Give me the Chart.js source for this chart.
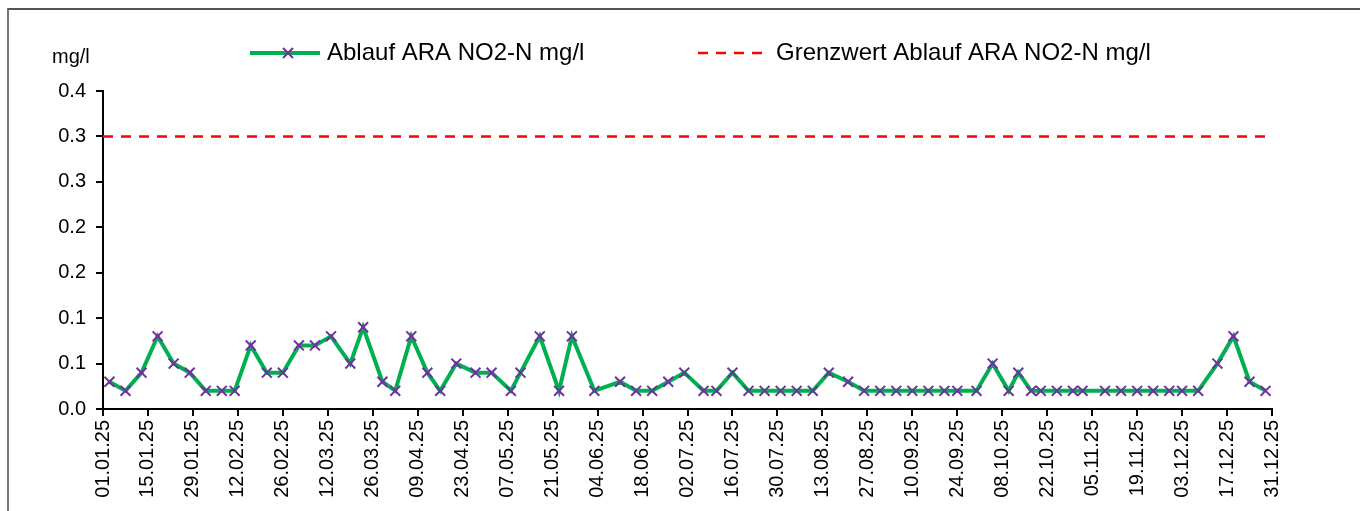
<!DOCTYPE html>
<html>
<head>
<meta charset="utf-8">
<script src="https://cdn.jsdelivr.net/npm/chart.js@4"></script>
<style>
  html, body { margin: 0; padding: 0; background: #fff; overflow: hidden; }
  #frame { position: absolute; left: 7px; top: 8px; width: 1400px; height: 600px;
           border-top: 2px solid #555; border-left: 2px solid #777; }
  #no2Chart { position: absolute; left: 0; top: 0; }
</style>
</head>
<body>
<div id="frame"></div>
<canvas id="no2Chart" width="1360" height="511"></canvas>

<script>
  const sampleDates = [
    '03.01.25', '08.01.25', '13.01.25', '18.01.25', '23.01.25', '28.01.25',
    '02.02.25', '07.02.25', '11.02.25', '16.02.25', '21.02.25', '26.02.25',
    '03.03.25', '08.03.25', '13.03.25', '19.03.25', '23.03.25', '29.03.25',
    '02.04.25', '07.04.25', '12.04.25', '16.04.25', '21.04.25', '27.04.25',
    '02.05.25', '08.05.25', '11.05.25', '17.05.25', '23.05.25', '27.05.25',
    '03.06.25', '11.06.25', '16.06.25', '21.06.25', '26.06.25',
    '01.07.25', '07.07.25', '11.07.25', '16.07.25', '21.07.25', '26.07.25', '31.07.25',
    '05.08.25', '10.08.25', '15.08.25', '21.08.25', '26.08.25', '31.08.25',
    '05.09.25', '10.09.25', '15.09.25', '20.09.25', '24.09.25', '30.09.25',
    '05.10.25', '10.10.25', '13.10.25', '17.10.25', '20.10.25', '25.10.25', '30.10.25',
    '02.11.25', '09.11.25', '14.11.25', '19.11.25', '24.11.25', '29.11.25',
    '03.12.25', '08.12.25', '14.12.25', '19.12.25', '24.12.25', '29.12.25'
  ];
  const no2Values = [
    0.03, 0.02, 0.04, 0.08, 0.05, 0.04,
    0.02, 0.02, 0.02, 0.07, 0.04, 0.04,
    0.07, 0.07, 0.08, 0.05, 0.09, 0.03,
    0.02, 0.08, 0.04, 0.02, 0.05, 0.04,
    0.04, 0.02, 0.04, 0.08, 0.02, 0.08,
    0.02, 0.03, 0.02, 0.02, 0.03,
    0.04, 0.02, 0.02, 0.04, 0.02, 0.02, 0.02,
    0.02, 0.02, 0.04, 0.03, 0.02, 0.02,
    0.02, 0.02, 0.02, 0.02, 0.02, 0.02,
    0.05, 0.02, 0.04, 0.02, 0.02, 0.02, 0.02,
    0.02, 0.02, 0.02, 0.02, 0.02, 0.02,
    0.02, 0.02, 0.05, 0.08, 0.03, 0.02
  ];
  const limitValue = 0.3;
  const limitRange = ['01.01.25', '31.12.25'];

  const xTickLabels = [
    '01.01.25', '15.01.25', '29.01.25', '12.02.25', '26.02.25', '12.03.25', '26.03.25',
    '09.04.25', '23.04.25', '07.05.25', '21.05.25', '04.06.25', '18.06.25', '02.07.25',
    '16.07.25', '30.07.25', '13.08.25', '27.08.25', '10.09.25', '24.09.25', '08.10.25',
    '22.10.25', '05.11.25', '19.11.25', '03.12.25', '17.12.25', '31.12.25'
  ];
  const yTickLabels = ['0.0', '0.1', '0.1', '0.2', '0.2', '0.3', '0.3', '0.4'];

  const FONT = '"Liberation Sans", Arial, sans-serif';

  // dd.mm.yy -> day of year (0 = 1 Jan)
  function dayOfYear(s) {
    const [d, m, y] = s.split('.').map(Number);
    return (Date.UTC(2000 + y, m - 1, d) - Date.UTC(2000 + y, 0, 1)) / 86400000;
  }

  // legend + unit label, drawn like the Excel original
  const excelLegend = {
    id: 'excelLegend',
    afterDraw(chart) {
      const ctx = chart.ctx;
      const ds = chart.data.datasets;
      ctx.save();
      ctx.fillStyle = '#000';
      ctx.textBaseline = 'middle';

      ctx.font = '20px ' + FONT;
      ctx.fillText('mg/l', 52, 57);

      // series 1: line with x marker
      ctx.strokeStyle = ds[0].borderColor;
      ctx.lineWidth = ds[0].borderWidth;
      ctx.beginPath();
      ctx.moveTo(250, 53);
      ctx.lineTo(320, 53);
      ctx.stroke();
      ctx.strokeStyle = ds[0].pointBorderColor;
      ctx.lineWidth = 2;
      ctx.beginPath();
      ctx.moveTo(283, 48); ctx.lineTo(293, 58);
      ctx.moveTo(293, 48); ctx.lineTo(283, 58);
      ctx.stroke();

      // series 2: dashed red
      ctx.strokeStyle = ds[1].borderColor;
      ctx.lineWidth = ds[1].borderWidth;
      ctx.setLineDash(ds[1].borderDash);
      ctx.beginPath();
      ctx.moveTo(698, 53);
      ctx.lineTo(766, 53);
      ctx.stroke();
      ctx.setLineDash([]);

      ctx.font = '24px ' + FONT;
      ctx.fillText(ds[0].label, 327, 53);
      ctx.fillText(ds[1].label, 776, 53);
      ctx.restore();
    }
  };

  new Chart(document.getElementById('no2Chart'), {
    type: 'line',
    data: {
      datasets: [
        {
          label: 'Ablauf ARA NO2-N mg/l',
          data: sampleDates.map((d, i) => ({ x: dayOfYear(d), y: no2Values[i] })),
          borderColor: '#00b050',
          borderWidth: 4,
          tension: 0,
          pointStyle: 'crossRot',
          pointRadius: 7,
          pointBorderWidth: 2,
          pointBorderColor: '#7030a0',
          pointBackgroundColor: '#7030a0',
          order: 1
        },
        {
          label: 'Grenzwert Ablauf ARA NO2-N mg/l',
          data: limitRange.map(d => ({ x: dayOfYear(d), y: limitValue })),
          borderColor: '#ff0000',
          borderWidth: 2.5,
          borderDash: [10, 8],
          pointRadius: 0,
          order: 2
        }
      ]
    },
    options: {
      responsive: false,
      animation: false,
      devicePixelRatio: 1,
      layout: { padding: { left: 0, top: 91, right: 88, bottom: 0 } },
      plugins: { legend: { display: false }, tooltip: { enabled: false } },
      scales: {
        x: {
          type: 'linear',
          min: 0,
          max: 364,
          border: { color: '#000', width: 2 },
          grid: { drawOnChartArea: false, tickLength: 7, color: '#000', lineWidth: 2 },
          ticks: {
            stepSize: 14,
            autoSkip: false,
            maxRotation: 90,
            minRotation: 90,
            padding: 4,
            color: '#000',
            font: { size: 20, family: FONT },
            callback: (v, i) => xTickLabels[i]
          },
          afterFit(scale) { scale.height = 102; }
        },
        y: {
          min: 0,
          max: 0.35,
          border: { color: '#000', width: 2 },
          grid: { drawOnChartArea: false, tickLength: 7, color: '#000', lineWidth: 2 },
          ticks: {
            stepSize: 0.05,
            padding: 10,
            color: '#000',
            font: { size: 20, family: FONT },
            callback: (v, i) => yTickLabels[i]
          },
          afterFit(scale) { scale.width = 103; }
        }
      }
    },
    plugins: [excelLegend]
  });
</script>
</body>
</html>
